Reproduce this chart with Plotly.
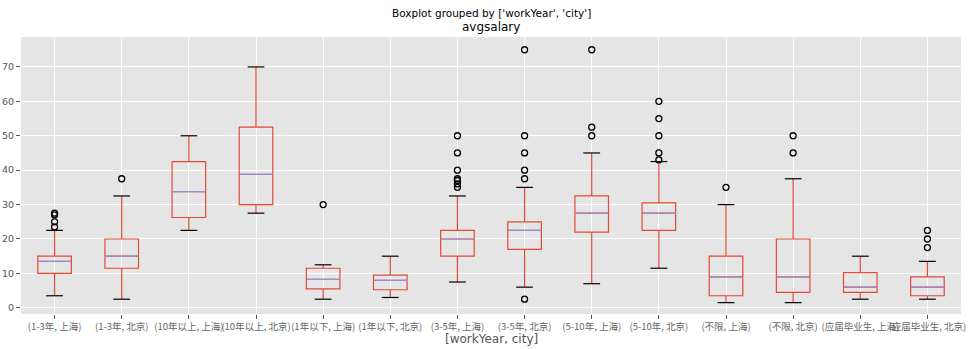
import plotly.graph_objects as go

categories = ["(1-3年, 上海)", "(1-3年, 北京)", "(10年以上, 上海)", "(10年以上, 北京)",
              "(1年以下, 上海)", "(1年以下, 北京)", "(3-5年, 上海)", "(3-5年, 北京)",
              "(5-10年, 上海)", "(5-10年, 北京)", "(不限, 上海)", "(不限, 北京)",
              "(应届毕业生, 上海)", "(应届毕业生, 北京)"]
lower = [3.5, 2.5, 22.5, 27.5, 2.5, 3, 7.5, 6, 7, 11.5, 1.5, 1.5, 2.5, 2.5]
q1 = [10, 11.5, 26.25, 30, 5.5, 5.25, 15, 17, 22, 22.5, 3.5, 4.5, 4.5, 3.5]
median = [13.5, 15, 33.75, 38.75, 8.25, 8, 20, 22.5, 27.5, 27.5, 9, 9, 6, 6]
q3 = [15, 20, 42.5, 52.5, 11.5, 9.5, 22.5, 25, 32.5, 30.5, 15, 20, 10.25, 9]
upper = [22.5, 32.5, 50, 70, 12.5, 15, 32.5, 35, 45, 42.5, 30, 37.5, 15, 13.5]
outliers = [[23.5, 25, 27, 27.5], [37.5], [], [], [30], [], [35, 36, 37, 37.5, 40, 45, 50],
            [2.5, 37.5, 40, 45, 50, 75], [50, 52.5, 75], [43, 45, 50, 55, 60], [35], [45, 50],
            [], [17.5, 20, 22.5]]
yticks = [0, 10, 20, 30, 40, 50, 60, 70]

RED = "#E24A33"
PURPLE = "#988ED5"
BOX_W = 0.5

pos = list(range(1, len(categories) + 1))

fig = go.Figure()
fig.add_trace(go.Box(
    x=pos, q1=q1, median=median, q3=q3, lowerfence=lower, upperfence=upper,
    width=BOX_W, whiskerwidth=0, fillcolor="rgba(0,0,0,0)",
    line=dict(color=RED, width=1.2), boxpoints=False, showlegend=False, hoverinfo="skip"))

# medians
mx, my = [], []
for p, m in zip(pos, median):
    mx += [p - BOX_W / 2, p + BOX_W / 2, None]
    my += [m, m, None]
fig.add_trace(go.Scatter(x=mx, y=my, mode="lines", line=dict(color=PURPLE, width=1.2),
                         showlegend=False, hoverinfo="skip"))

# caps
cx, cy = [], []
for p, lo, hi in zip(pos, lower, upper):
    for v in (lo, hi):
        cx += [p - BOX_W / 4, p + BOX_W / 4, None]
        cy += [v, v, None]
fig.add_trace(go.Scatter(x=cx, y=cy, mode="lines", line=dict(color="black", width=1.2),
                         showlegend=False, hoverinfo="skip"))

# fliers
ox, oy = [], []
for p, vals in zip(pos, outliers):
    for v in vals:
        ox.append(p)
        oy.append(v)
fig.add_trace(go.Scatter(x=ox, y=oy, mode="markers",
                         marker=dict(symbol="circle-open", size=6, color="black",
                                     line=dict(width=1.3, color="black")),
                         showlegend=False, hoverinfo="skip"))

fig.update_layout(
    width=972, height=349,
    margin=dict(l=21, r=11, t=37, b=35),
    paper_bgcolor="white", plot_bgcolor="#E5E5E5",
    font=dict(family="Noto Sans CJK SC, DejaVu Sans, sans-serif", color="#555555", size=10),
    annotations=[
        dict(text="Boxplot grouped by ['workYear', 'city']", xref="paper", yref="paper",
             x=0.5, y=1, yshift=24, showarrow=False, xanchor="center", yanchor="middle",
             font=dict(family="DejaVu Sans, sans-serif", size=10.5, color="black")),
        dict(text="avgsalary", xref="paper", yref="paper",
             x=0.5, y=1, yshift=10, showarrow=False, xanchor="center", yanchor="middle",
             font=dict(family="DejaVu Sans, sans-serif", size=12, color="black")),
        dict(text="[workYear, city]", xref="paper", yref="paper",
             x=0.5, y=0, yshift=-25, showarrow=False, xanchor="center", yanchor="middle",
             font=dict(family="DejaVu Sans, sans-serif", size=12, color="#555555")),
    ],
)
fig.update_xaxes(
    range=[0.5, 14.5], tickmode="array", tickvals=pos, ticktext=categories,
    tickangle=0, showgrid=True, gridcolor="white", gridwidth=1, zeroline=False,
    ticks="outside", ticklen=4, tickcolor="#555555", automargin=False,
    ticklabelstandoff=0,
    tickfont=dict(size=9.5, color="#666666", family="Noto Sans CJK SC, sans-serif"),
)
fig.update_yaxes(
    range=[-1.8, 78.7], tickmode="array", tickvals=yticks,
    showgrid=True, gridcolor="white", gridwidth=1, zeroline=False,
    ticks="outside", ticklen=4, tickcolor="#555555", automargin=False,
    tickfont=dict(size=9.5, color="#555555", family="DejaVu Sans, sans-serif"),
)

fig.write_html("out.html")
